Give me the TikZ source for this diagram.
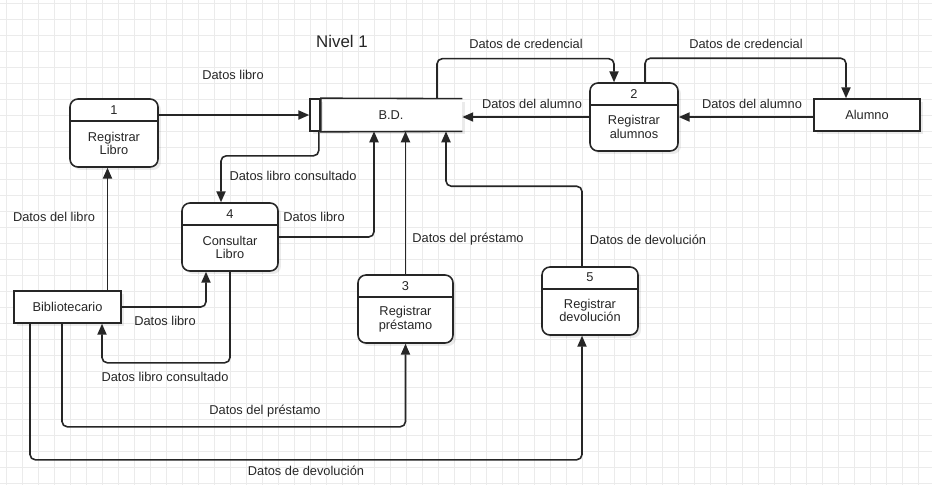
\documentclass[tikz,border=0pt]{standalone}
\usepackage{fontspec}
\setmainfont{Liberation Sans}
\usepackage{tikz}
\usetikzlibrary{arrows.meta,positioning,shadows}

\begin{document}
\begin{tikzpicture}[x=0.02cm, y=-0.02cm, font=\fontsize{7.3}{7.6}\selectfont, text=black!85,
    rejilla/.style={draw=black!8, line width=0.55pt},
    sombra/.style={drop shadow={shadow xshift=1.7pt, shadow yshift=-1.7pt, fill=black, opacity=0.08}},
    proceso/.style={draw=black!85, line width=0.9pt, rounded corners=4.5pt, fill=white, minimum width=1.76cm, minimum height=1.36cm, inner sep=0pt, sombra},
    entidad/.style={draw=black!85, line width=0.9pt, fill=white, minimum width=2.13cm, minimum height=0.64cm, sombra},
    texto/.style={align=center, inner sep=0pt},
    linea/.style={draw=black!85, line width=0.9pt},
    flujo/.style={linea, rounded corners=3pt, -{Triangle[length=6.2pt,width=5.2pt]}}
  ]
  \useasboundingbox (0,0) rectangle (932,485);
  \fill[white] (0,0) rectangle (932,485);
  \foreach \i in {0,...,58} \draw[rejilla] (6.7+16*\i,0) -- (6.7+16*\i,485);
  \foreach \j in {0,...,30} \draw[rejilla] (0,3+16*\j) -- (932,3+16*\j);

  \node[font=\fontsize{9.6}{11}\selectfont] (titulo) at (342,41) {Nivel 1};

  \node[fill=white, minimum width=2.84cm, minimum height=0.64cm, sombra] (bd) at (391,115) {B.D.};
  \node[draw=black!85, line width=0.9pt, fill=white, minimum width=0.2cm, minimum height=0.64cm, inner sep=0pt, sombra] (bdid) at (315,115) {};
  \draw[linea] (bd.north east) -- (bdid.north east) -- (bdid.south east) -- (bd.south east);

  \node[proceso] (p1) at (114,133) {};
  \node[proceso] (p2) at (634,117) {};
  \node[proceso, minimum width=1.9cm] (p3) at (405.5,309) {};
  \node[proceso, minimum width=1.92cm] (p4) at (230,237) {};
  \node[proceso, minimum width=1.92cm] (p5) at (590,301) {};
  \draw[linea] ([yshift=-0.46cm]p1.north west) -- ([yshift=-0.46cm]p1.north east);
  \draw[linea] ([yshift=-0.46cm]p2.north west) -- ([yshift=-0.46cm]p2.north east);
  \draw[linea] ([yshift=-0.46cm]p3.north west) -- ([yshift=-0.46cm]p3.north east);
  \draw[linea] ([yshift=-0.46cm]p4.north west) -- ([yshift=-0.46cm]p4.north east);
  \draw[linea] ([yshift=-0.45cm]p5.north west) -- ([yshift=-0.45cm]p5.north east);
  \node[texto] (p1n) at ([yshift=-0.23cm]p1.north) {1};
  \node[texto] (p2n) at ([yshift=-0.23cm]p2.north) {2};
  \node[texto] (p3n) at ([yshift=-0.23cm]p3.north) {3};
  \node[texto] (p4n) at ([yshift=-0.23cm]p4.north) {4};
  \node[texto] (p5n) at ([yshift=-0.22cm]p5.north) {5};
  \node[texto] (p1t) at ([yshift=-0.21cm]p1.center) {Registrar\\Libro};
  \node[texto] (p2t) at ([yshift=-0.2cm]p2.center) {Registrar\\alumnos};
  \node[texto] (p3t) at ([yshift=-0.2cm]p3.center) {Registrar\\préstamo};
  \node[texto] (p4t) at ([yshift=-0.21cm]p4.center) {Consultar\\Libro};
  \node[texto] (p5t) at ([yshift=-0.19cm]p5.center) {Registrar\\devolución};

  \node[entidad] (bib) at (67.5,307) {Bibliotecario};
  \node[entidad] (alumno) at (867,115) {Alumno};

  \draw[flujo] (p1.east |- bd.west) -- (bdid.west);
  \draw[flujo] ([xshift=-0.04cm]bdid.south east) -- ++(0,24) -| ([xshift=-0.18cm]p4.north);
  \draw[flujo] (p4.east) -| ([xshift=-0.34cm]bd.south);
  \draw[flujo] (p3.north) -- (p3.north |- bd.south);
  \draw[flujo] ([xshift=-0.16cm]p5.north) -- ++(0,-80) -| ([xshift=1.1cm]bd.south);
  \draw[flujo] (p2.west) -- (p2.west -| bd.east);
  \draw[flujo] ([xshift=0.92cm]bd.north) -- ++(0,-40) -| ([xshift=-0.4cm]p2.north);
  \draw[flujo] (alumno.west |- p2.east) -- (p2.east);
  \draw[flujo] ([xshift=0.22cm]p2.north) -- ++(0,-24) -| ([xshift=-0.42cm]alumno.north);
  \draw[flujo] ([xshift=0.8cm]bib.north) -- ([xshift=0.8cm]bib.north |- p1.south);
  \draw[flujo] (bib.east) -| ([xshift=-0.48cm]p4.south);
  \draw[flujo] (p4.south) -- ++(0,91) -| ([xshift=0.69cm]bib.south);
  \draw[flujo] ([xshift=-0.11cm]bib.south) -- ++(0,103) -| (p3.south);
  \draw[flujo] ([xshift=-0.75cm]bib.south) -- ++(0,136) -| ([xshift=-0.16cm]p5.south);

  \node (ldl1) at (233,75) {Datos libro};
  \node (lcred1) at (526,44) {Datos de credencial};
  \node (lcred2) at (746,44) {Datos de credencial};
  \node (lalu1) at (532,104) {Datos del alumno};
  \node (lalu2) at (752,104) {Datos del alumno};
  \node (lcons1) at (293,175.5) {Datos libro consultado};
  \node (ldel) at (54,216.5) {Datos del libro};
  \node (ldl2) at (314,216.5) {Datos libro};
  \node (lpres1) at (468,239.5) {Datos del préstamo};
  \node (ldev1) at (648,240) {Datos de devolución};
  \node (ldl3) at (165,321) {Datos libro};
  \node (lcons2) at (165,377) {Datos libro consultado};
  \node (lpres2) at (265,411.5) {Datos del préstamo};
  \node (ldev2) at (306,471) {Datos de devolución};
\end{tikzpicture}
\end{document}
